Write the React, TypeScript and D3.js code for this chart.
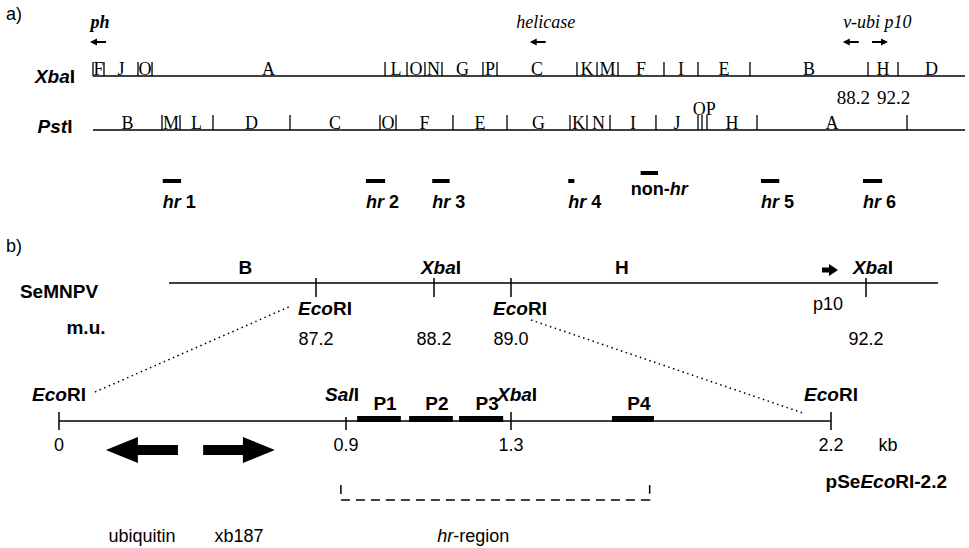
import React from 'react';
import * as d3 from 'd3';

// panel a: physical map, cut positions in % of the drawn genome length
const xbaCuts = [0, 1.26, 5.16, 6.77, 33.49, 36.01, 38.07, 40.02, 44.72, 46.33, 55.5, 57.8, 60.21, 65.48, 69.38, 75.34, 88.88, 92.32, 100];
const xbaNames = ['F', 'J', 'O', 'A', 'L', 'O', 'N', 'G', 'P', 'C', 'K', 'M', 'F', 'I', 'E', 'B', 'H', 'D'];
const xbaMarks = ['88.2', '92.2'];

const pstCuts = [0, 7.91, 9.98, 13.76, 22.59, 32.91, 34.75, 41.28, 47.48, 54.7, 56.65, 59.29, 64.56, 69.38, 69.84, 70.41, 76.15, 93.35, 100];
const pstNames = ['B', 'M', 'L', 'D', 'C', 'O', 'F', 'E', 'G', 'K', 'N', 'I', 'J', 'O', 'P', 'H', 'A', ''];

const genes = ['ph', 'helicase', 'v-ubi', 'p10'];
const genePos = [0.57, 51.0, 86.9, 90.25];
const geneDir = [-1, -1, -1, 1];

const hrNames = ['1', '2', '3', '4', '5', '6'];
const hrStart = [8.0, 31.3, 38.9, 54.5, 76.6, 88.3];
const hrEnd = [10.1, 33.5, 40.9, 55.2, 78.7, 90.5];
const nonHr = [62.8, 64.8];

// panel b: SeMNPV map units
const muTicks = [87.2, 88.2, 89.0, 92.2];
const muSites = ['EcoRI', 'XbaI', 'EcoRI', 'XbaI'];
const muFragNames = ['B', 'H'];
const muFragPos = [86.6, 90.0];

// pSeEcoRI-2.2 in kb
const kbTicks = [0, 0.9, 1.3, 2.2];
const kbSites = ['EcoRI', 'SalI', 'XbaI', 'EcoRI'];
const probes = ['P1', 'P2', 'P3', 'P4'];
const probeStart = [0.927, 1.053, 1.174, 1.584];
const probeEnd = [1.033, 1.159, 1.281, 1.702];
const orfs = ['ubiquitin', 'xb187'];
const orfStart = [0.373, 0.452];
const orfEnd = [0.147, 0.677];
const hrRegion = [0.884, 1.69];

const SERIF = '"Liberation Serif", "Times New Roman", serif';
const SANS = '"Liberation Sans", Arial, sans-serif';

function smallArrow(cx: number, y: number, dir: number, len = 16) {
  const tip = cx + (dir * len) / 2;
  const tail = cx - (dir * len) / 2;
  const hb = tip - dir * 7;
  return `M${tail},${y - 1}L${hb},${y - 1}L${hb},${y - 3.5}L${tip},${y}L${hb},${y + 3.5}L${hb},${y + 1}L${tail},${y + 1}Z`;
}

function bigArrow(x0: number, x1: number, y: number, head = 32, hh = 13, sh = 5) {
  const dir = x1 > x0 ? 1 : -1;
  const hb = x1 - dir * head;
  return `M${x0},${y - sh}L${hb},${y - sh}L${hb},${y - hh}L${x1},${y}L${hb},${y + hh}L${hb},${y + sh}L${x0},${y + sh}Z`;
}

function Site({ name, x, y, size = 19, anchor = 'middle' }: any) {
  // restriction site: italic genus part, roman suffix
  const pre = name.slice(0, 3);
  const post = name.slice(3);
  return (
    <text x={x} y={y} fontFamily={SANS} fontWeight="bold" fontSize={size} textAnchor={anchor}>
      <tspan fontStyle="italic">{pre}</tspan>
      {post}
    </text>
  );
}

export default function App() {
  const mapX = d3.scaleLinear().domain([0, 100]).range([93, 965]);
  const xbaY = 76;
  const pstY = 130;
  const hrY = 181;

  const xbaFrags = xbaNames.map((n, i) => ({ name: n, x0: mapX(xbaCuts[i]), x1: mapX(xbaCuts[i + 1]) }));
  const pstFrags = pstNames.map((n, i) => ({ name: n, x0: mapX(pstCuts[i]), x1: mapX(pstCuts[i + 1]) }));

  const muX = d3.scaleLinear()
    .domain([85.95, 87.2, 88.2, 89.0, 92.2, 92.85])
    .range([169, 316, 434, 511, 866, 938]);
  const muY = 283;

  const kbX = d3.scaleLinear().domain(kbTicks).range([59, 346, 511, 831]);
  const kbY = 421;

  const tiny = pstFrags.filter((f) => f.x1 - f.x0 < 6);
  const opX = d3.mean(tiny, (f) => (f.x0 + f.x1) / 2) as number;

  return (
    <div style={{ position: 'absolute', left: 0, top: 0 }}>
      <svg width={969} height={548} style={{ display: 'block', background: '#fff' }}>
        {/* ---------- panel a ---------- */}
        <text x={6} y={20} fontFamily={SANS} fontSize={18}>a)</text>

        {genes.map((g, i) => (
          <path key={g} d={smallArrow(mapX(genePos[i]), 42, geneDir[i])} fill="#000" />
        ))}
        <text x={mapX(genePos[0]) + 2} y={28} fontFamily={SERIF} fontStyle="italic" fontWeight="bold" fontSize={18} textAnchor="middle">{genes[0]}</text>
        <text x={mapX(genePos[1]) + 8} y={28} fontFamily={SERIF} fontStyle="italic" fontSize={18} textAnchor="middle">{genes[1]}</text>
        <text x={(mapX(genePos[2]) + mapX(genePos[3])) / 2 + 12} y={28} fontFamily={SERIF} fontStyle="italic" fontSize={18} textAnchor="middle">
          {genes[2]} {genes[3]}
        </text>

        <Site name="XbaI" x={55} y={xbaY + 7} size={19} />
        <Site name="PstI" x={55} y={pstY + 3} size={19} />

        <line x1={mapX(0)} x2={mapX(100)} y1={xbaY} y2={xbaY} stroke="#000" strokeWidth={1.5} />
        {xbaFrags.map((f, i) => (
          <g key={'x' + i}>
            <line x1={f.x0} x2={f.x0} y1={xbaY} y2={xbaY - 14} stroke="#000" strokeWidth={1.3} />
            <text x={(f.x0 + f.x1) / 2} y={xbaY - 1} fontFamily={SERIF} fontSize={18} textAnchor="middle">{f.name}</text>
          </g>
        ))}
        <text x={xbaFrags[16].x0 + 2} y={xbaY + 28} fontFamily={SERIF} fontSize={19} textAnchor="end">{xbaMarks[0]}</text>
        <text x={xbaFrags[17].x0 - 21} y={xbaY + 28} fontFamily={SERIF} fontSize={19} textAnchor="start">{xbaMarks[1]}</text>

        <line x1={mapX(0)} x2={mapX(100)} y1={pstY} y2={pstY} stroke="#000" strokeWidth={1.5} />
        {pstFrags.map((f, i) => (
          <g key={'p' + i}>
            {i > 0 && <line x1={f.x0} x2={f.x0} y1={pstY} y2={pstY - 15} stroke="#000" strokeWidth={1.3} />}
            {f.x1 - f.x0 >= 6 && (
              <text x={(f.x0 + f.x1) / 2} y={pstY - 1} fontFamily={SERIF} fontSize={18} textAnchor="middle">{f.name}</text>
            )}
          </g>
        ))}
        <text x={opX + 2} y={pstY - 15} fontFamily={SERIF} fontSize={18} textAnchor="middle">
          {tiny.map((f) => f.name).join('')}
        </text>

        {hrNames.map((n, i) => (
          <g key={'hr' + n}>
            <rect x={mapX(hrStart[i])} y={hrY - 2} width={mapX(hrEnd[i]) - mapX(hrStart[i])} height={4} fill="#000" />
            <text x={mapX(hrStart[i])} y={hrY + 27} fontFamily={SANS} fontWeight="bold" fontSize={18}>
              <tspan fontStyle="italic">hr</tspan> {n}
            </text>
          </g>
        ))}
        <rect x={mapX(nonHr[0])} y={hrY - 10} width={mapX(nonHr[1]) - mapX(nonHr[0])} height={4} fill="#000" />
        <text x={(mapX(nonHr[0]) + mapX(nonHr[1])) / 2 + 10} y={hrY + 14} fontFamily={SANS} fontWeight="bold" fontSize={18} textAnchor="middle">
          non-<tspan fontStyle="italic">hr</tspan>
        </text>

        {/* ---------- panel b ---------- */}
        <text x={6} y={252} fontFamily={SANS} fontSize={18}>b)</text>

        <text x={59} y={muY + 15} fontFamily={SANS} fontWeight="bold" fontSize={19} textAnchor="middle">SeMNPV</text>
        <text x={86} y={muY + 51} fontFamily={SANS} fontWeight="bold" fontSize={19} textAnchor="middle">m.u.</text>

        <line x1={muX(85.95)} x2={muX(92.85)} y1={muY} y2={muY} stroke="#000" strokeWidth={1.5} />
        {muFragNames.map((n, i) => (
          <text key={'mf' + n} x={muX(muFragPos[i])} y={muY - 9} fontFamily={SANS} fontWeight="bold" fontSize={19} textAnchor="middle">{n}</text>
        ))}
        {muTicks.map((t, i) => (
          <g key={'mu' + i}>
            <line x1={muX(t)} x2={muX(t)} y1={muY - 5} y2={muY + 14} stroke="#000" strokeWidth={1.5} />
            {muSites[i] === 'EcoRI' ? (
              <Site name={muSites[i]} x={muX(t) + 9} y={muY + 32} />
            ) : (
              <Site name={muSites[i]} x={muX(t) + 7} y={muY - 9} />
            )}
            <text x={muX(t)} y={muY + 62} fontFamily={SANS} fontSize={18} textAnchor="middle">{t.toFixed(1)}</text>
          </g>
        ))}
        <path d={bigArrow(muX(92.2) - 44, muX(92.2) - 28, muY - 13, 9, 6, 2.5)} fill="#000" />
        <text x={muX(92.2) - 38} y={muY + 27} fontFamily={SANS} fontSize={18} textAnchor="middle">p10</text>

        <line x1={kbX(0) + 36} y1={kbY - 29} x2={muX(87.2) - 25} y2={muY + 23} stroke="#000" strokeWidth={1.5} strokeDasharray="1.5 3.5" />
        <line x1={muX(89.0) + 20} y1={muY + 37} x2={kbX(2.2) - 28} y2={kbY - 8} stroke="#000" strokeWidth={1.5} strokeDasharray="1.5 3.5" />

        <line x1={kbX(0)} x2={kbX(2.2)} y1={kbY} y2={kbY} stroke="#000" strokeWidth={1.5} />
        {kbTicks.map((t, i) => (
          <g key={'kb' + i}>
            <line x1={kbX(t)} x2={kbX(t)} y1={kbY - (i === 1 ? 4 : 9)} y2={kbY + 9} stroke="#000" strokeWidth={1.5} />
            <text x={kbX(t)} y={kbY + 30} fontFamily={SANS} fontSize={18} textAnchor="middle">{String(t)}</text>
          </g>
        ))}
        <Site name={kbSites[0]} x={kbX(0)} y={kbY - 20} />
        <Site name={kbSites[1]} x={kbX(0.9) - 4} y={kbY - 20} />
        <Site name={kbSites[2]} x={kbX(1.3) - 14} y={kbY - 20} anchor="start" />
        <Site name={kbSites[3]} x={kbX(2.2)} y={kbY - 20} />
        <text x={kbX(2.2) + 57} y={kbY + 30} fontFamily={SANS} fontSize={18} textAnchor="middle">kb</text>

        {probes.map((p, i) => (
          <g key={p}>
            <rect x={kbX(probeStart[i])} y={kbY - 5} width={kbX(probeEnd[i]) - kbX(probeStart[i])} height={6} fill="#000" />
            <text x={(kbX(probeStart[i]) + kbX(probeEnd[i])) / 2 + 6} y={kbY - 11} fontFamily={SANS} fontWeight="bold" fontSize={19} textAnchor="middle">{p}</text>
          </g>
        ))}

        {orfs.map((o, i) => (
          <g key={o}>
            <path d={bigArrow(kbX(orfStart[i]), kbX(orfEnd[i]), kbY + 29)} fill="#000" />
            <text x={(kbX(orfStart[i]) + kbX(orfEnd[i])) / 2} y={kbY + 121} fontFamily={SANS} fontSize={18} textAnchor="middle">{o}</text>
          </g>
        ))}

        <text x={947} y={kbY + 67} fontFamily={SANS} fontWeight="bold" fontSize={19} textAnchor="end">
          pSe<tspan fontStyle="italic">Eco</tspan>RI-2.2
        </text>

        <path
          d={`M${kbX(hrRegion[0])},${kbY + 64}V${kbY + 79}H${kbX(hrRegion[1])}V${kbY + 64}`}
          fill="none" stroke="#000" strokeWidth={1.5} strokeDasharray="9 6"
        />
        <text x={(kbX(hrRegion[0]) + kbX(hrRegion[1])) / 2 - 22} y={kbY + 121} fontFamily={SANS} fontSize={18} textAnchor="middle">
          <tspan fontStyle="italic">hr</tspan>-region
        </text>
      </svg>
    </div>
  );
}
